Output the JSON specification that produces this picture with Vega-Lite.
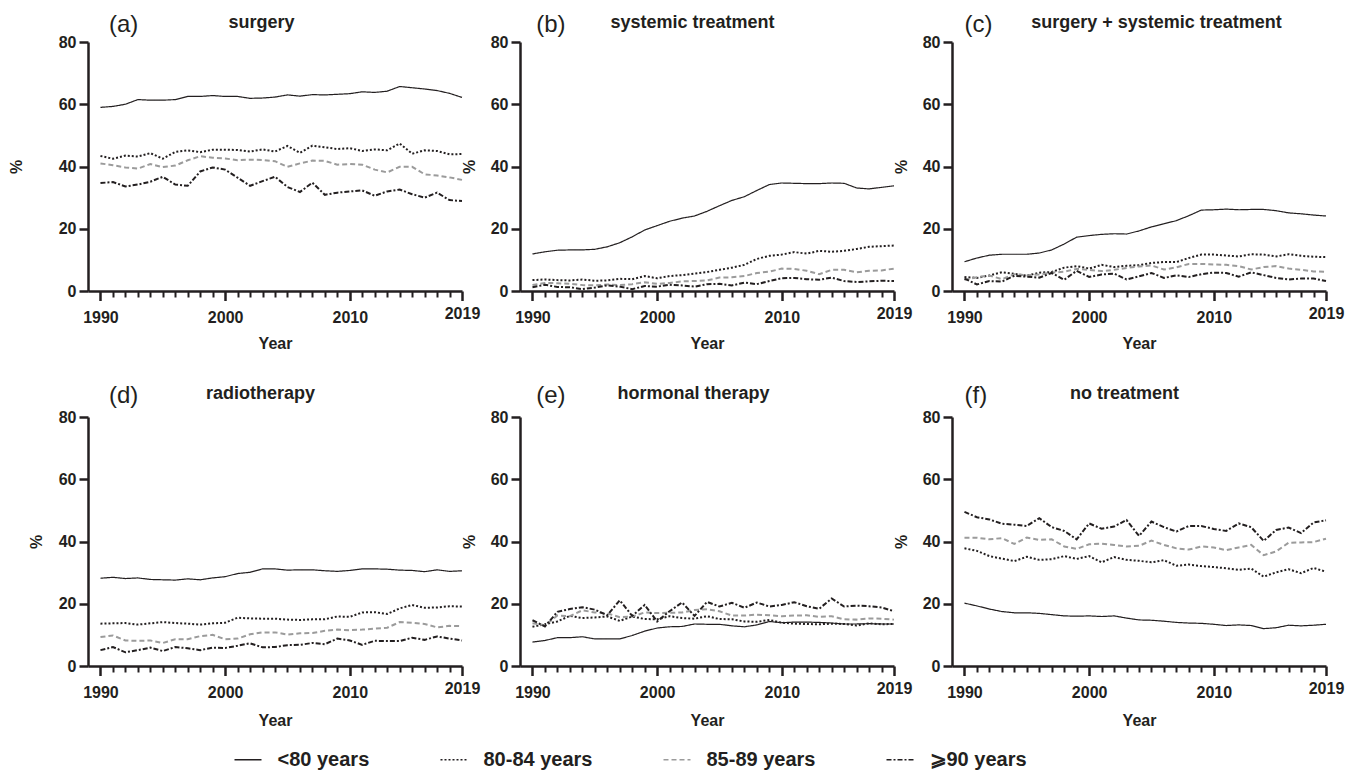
{
"$schema": "https://vega.github.io/schema/vega-lite/v6.json",
"padding": {"left": 8, "top": 12, "right": 5, "bottom": 5},
"columns": 3,
"spacing": {"row": 126, "column": 58},
"bounds": "flush",
"config": {
 "font": "Liberation Sans",
 "view": {"stroke": null},
 "axis": {"labelFont": "Liberation Sans", "labelFontSize": 16, "labelFontWeight": "bold", "labelColor": "#231f20", "titleFont": "Liberation Sans", "titleFontSize": 16, "titleFontWeight": "bold", "titleColor": "#231f20", "domainColor": "#231f20", "domainWidth": 2.5, "tickColor": "#231f20", "tickWidth": 2.5, "grid": false},
 "axisY": {"tickSize": 9, "labelPadding": 3, "titleAngle": -90, "titleAlign": "center", "titleBaseline": "middle"},
 "legend": {"labelFont": "Liberation Sans", "labelFontSize": 20, "labelFontWeight": "bold", "labelColor": "#231f20", "symbolType": "stroke", "symbolSize": 729, "symbolStrokeWidth": 1.6, "labelOffset": 15, "columnPadding": 67, "padding": 0}
},
"concat": [
 {"width": 374, "height": 249, "data": {"name": "surgery"},
  "layer": [
   {"mark": {"type": "line"},
    "encoding": {
     "x": {"field": "year", "type": "quantitative", "scale": {"domain": [1989, 2019], "nice": false, "zero": false}, "axis": {"title": "Year", "values": [1990,1991,1992,1993,1994,1995,1996,1997,1998,1999,2000,2001,2002,2003,2004,2005,2006,2007,2008,2009,2010,2011,2012,2013,2014,2015,2016,2017,2018,2019], "format": "d", "labelExpr": "datum.value % 10 == 0 || datum.value == 2019 ? datum.label : ''", "labelFlush": false, "labelOverlap": false, "tickSize": {"condition": {"test": "datum.value % 10 == 0 || datum.value == 2019", "value": 9.5}, "value": 6}, "tickWidth": {"condition": {"test": "datum.value % 10 == 0 || datum.value == 2019", "value": 2.5}, "value": 2}, "labelPadding": {"condition": {"test": "datum.value == 2019", "value": 5}, "value": 8.7}, "titleY": 57, "titleBaseline": "alphabetic"}},
     "y": {"field": "pct", "type": "quantitative", "scale": {"domain": [0, 80], "nice": false}, "axis": {"title": "%", "values": [0,20,40,60,80], "titleX": -71.5, "titleY": 124.5}},
     "color": {"field": "age", "type": "nominal", "scale": {"domain": ["<80 years","80-84 years","85-89 years","⩾90 years"], "range": ["#231f20","#231f20","#9b9b9b","#231f20"]}, "legend": {"title": null, "orient": "none", "legendX": 145.5, "legendY": 703, "direction": "horizontal"}},
     "strokeDash": {"field": "age", "type": "nominal", "scale": {"domain": ["<80 years","80-84 years","85-89 years","⩾90 years"], "range": [[1,0],[2,2],[5,3],[5,2,2,2]]}, "legend": {"title": null, "orient": "none", "legendX": 145.5, "legendY": 703, "direction": "horizontal"}},
     "strokeWidth": {"condition": {"test": "datum.age == '<80 years'", "value": 1.2}, "value": 2}
    }},
   {"mark": {"type": "point", "opacity": 0},
    "encoding": {"y": {"field": "pct", "type": "quantitative"}, "x": {"field": "year", "type": "quantitative", "scale": {"domain": [1989, 2019], "nice": false, "zero": false}, "axis": {"orient": "top", "title": "(a)", "titleX": 20.5, "titleY": -10.7, "titleAlign": "left", "titleBaseline": "alphabetic", "titleFontWeight": "normal", "titleFontSize": 24, "titleAngle": 0, "domain": false, "ticks": false, "labels": false}}}},
   {"mark": {"type": "point", "opacity": 0},
    "encoding": {"y": {"field": "pct", "type": "quantitative"}, "x": {"field": "year", "type": "quantitative", "scale": {"domain": [1989, 2019], "nice": false, "zero": false}, "axis": {"orient": "top", "title": "surgery", "titleX": 173, "titleY": -14.7, "titleAlign": "center", "titleBaseline": "alphabetic", "titleFontSize": 18, "titleAngle": 0, "domain": false, "ticks": false, "labels": false}}}}
  ],
  "resolve": {"axis": {"x": "independent"}}},
 {"width": 374, "height": 249, "data": {"name": "systemic"},
  "layer": [
   {"mark": {"type": "line"},
    "encoding": {
     "x": {"field": "year", "type": "quantitative", "scale": {"domain": [1989, 2019], "nice": false, "zero": false}, "axis": {"title": "Year", "values": [1990,1991,1992,1993,1994,1995,1996,1997,1998,1999,2000,2001,2002,2003,2004,2005,2006,2007,2008,2009,2010,2011,2012,2013,2014,2015,2016,2017,2018,2019], "format": "d", "labelExpr": "datum.value % 10 == 0 || datum.value == 2019 ? datum.label : ''", "labelFlush": false, "labelOverlap": false, "tickSize": {"condition": {"test": "datum.value % 10 == 0 || datum.value == 2019", "value": 9.5}, "value": 6}, "tickWidth": {"condition": {"test": "datum.value % 10 == 0 || datum.value == 2019", "value": 2.5}, "value": 2}, "labelPadding": {"condition": {"test": "datum.value == 2019", "value": 5}, "value": 8.7}, "titleY": 57, "titleBaseline": "alphabetic"}},
     "y": {"field": "pct", "type": "quantitative", "scale": {"domain": [0, 80], "nice": false}, "axis": {"title": "%", "values": [0,20,40,60,80], "titleX": -51, "titleY": 124.5}},
     "color": {"field": "age", "type": "nominal", "scale": {"domain": ["<80 years","80-84 years","85-89 years","⩾90 years"], "range": ["#231f20","#231f20","#9b9b9b","#231f20"]}, "legend": {"title": null, "orient": "none", "legendX": 145.5, "legendY": 703, "direction": "horizontal"}},
     "strokeDash": {"field": "age", "type": "nominal", "scale": {"domain": ["<80 years","80-84 years","85-89 years","⩾90 years"], "range": [[1,0],[2,2],[5,3],[5,2,2,2]]}, "legend": {"title": null, "orient": "none", "legendX": 145.5, "legendY": 703, "direction": "horizontal"}},
     "strokeWidth": {"condition": {"test": "datum.age == '<80 years'", "value": 1.2}, "value": 2}
    }},
   {"mark": {"type": "point", "opacity": 0},
    "encoding": {"y": {"field": "pct", "type": "quantitative"}, "x": {"field": "year", "type": "quantitative", "scale": {"domain": [1989, 2019], "nice": false, "zero": false}, "axis": {"orient": "top", "title": "(b)", "titleX": 15.7, "titleY": -10.7, "titleAlign": "left", "titleBaseline": "alphabetic", "titleFontWeight": "normal", "titleFontSize": 24, "titleAngle": 0, "domain": false, "ticks": false, "labels": false}}}},
   {"mark": {"type": "point", "opacity": 0},
    "encoding": {"y": {"field": "pct", "type": "quantitative"}, "x": {"field": "year", "type": "quantitative", "scale": {"domain": [1989, 2019], "nice": false, "zero": false}, "axis": {"orient": "top", "title": "systemic treatment", "titleX": 172, "titleY": -14.7, "titleAlign": "center", "titleBaseline": "alphabetic", "titleFontSize": 18, "titleAngle": 0, "domain": false, "ticks": false, "labels": false}}}}
  ],
  "resolve": {"axis": {"x": "independent"}}},
 {"width": 374, "height": 249, "data": {"name": "combined"},
  "layer": [
   {"mark": {"type": "line"},
    "encoding": {
     "x": {"field": "year", "type": "quantitative", "scale": {"domain": [1989, 2019], "nice": false, "zero": false}, "axis": {"title": "Year", "values": [1990,1991,1992,1993,1994,1995,1996,1997,1998,1999,2000,2001,2002,2003,2004,2005,2006,2007,2008,2009,2010,2011,2012,2013,2014,2015,2016,2017,2018,2019], "format": "d", "labelExpr": "datum.value % 10 == 0 || datum.value == 2019 ? datum.label : ''", "labelFlush": false, "labelOverlap": false, "tickSize": {"condition": {"test": "datum.value % 10 == 0 || datum.value == 2019", "value": 9.5}, "value": 6}, "tickWidth": {"condition": {"test": "datum.value % 10 == 0 || datum.value == 2019", "value": 2.5}, "value": 2}, "labelPadding": {"condition": {"test": "datum.value == 2019", "value": 5}, "value": 8.7}, "titleY": 57, "titleBaseline": "alphabetic"}},
     "y": {"field": "pct", "type": "quantitative", "scale": {"domain": [0, 80], "nice": false}, "axis": {"title": "%", "values": [0,20,40,60,80], "titleX": -51, "titleY": 124.5}},
     "color": {"field": "age", "type": "nominal", "scale": {"domain": ["<80 years","80-84 years","85-89 years","⩾90 years"], "range": ["#231f20","#231f20","#9b9b9b","#231f20"]}, "legend": {"title": null, "orient": "none", "legendX": 145.5, "legendY": 703, "direction": "horizontal"}},
     "strokeDash": {"field": "age", "type": "nominal", "scale": {"domain": ["<80 years","80-84 years","85-89 years","⩾90 years"], "range": [[1,0],[2,2],[5,3],[5,2,2,2]]}, "legend": {"title": null, "orient": "none", "legendX": 145.5, "legendY": 703, "direction": "horizontal"}},
     "strokeWidth": {"condition": {"test": "datum.age == '<80 years'", "value": 1.2}, "value": 2}
    }},
   {"mark": {"type": "point", "opacity": 0},
    "encoding": {"y": {"field": "pct", "type": "quantitative"}, "x": {"field": "year", "type": "quantitative", "scale": {"domain": [1989, 2019], "nice": false, "zero": false}, "axis": {"orient": "top", "title": "(c)", "titleX": 12, "titleY": -10.7, "titleAlign": "left", "titleBaseline": "alphabetic", "titleFontWeight": "normal", "titleFontSize": 24, "titleAngle": 0, "domain": false, "ticks": false, "labels": false}}}},
   {"mark": {"type": "point", "opacity": 0},
    "encoding": {"y": {"field": "pct", "type": "quantitative"}, "x": {"field": "year", "type": "quantitative", "scale": {"domain": [1989, 2019], "nice": false, "zero": false}, "axis": {"orient": "top", "title": "surgery + systemic treatment", "titleX": 204, "titleY": -14.7, "titleAlign": "center", "titleBaseline": "alphabetic", "titleFontSize": 18, "titleAngle": 0, "domain": false, "ticks": false, "labels": false}}}}
  ],
  "resolve": {"axis": {"x": "independent"}}},
 {"width": 374, "height": 249, "data": {"name": "radio"},
  "layer": [
   {"mark": {"type": "line"},
    "encoding": {
     "x": {"field": "year", "type": "quantitative", "scale": {"domain": [1989, 2019], "nice": false, "zero": false}, "axis": {"title": "Year", "values": [1990,1991,1992,1993,1994,1995,1996,1997,1998,1999,2000,2001,2002,2003,2004,2005,2006,2007,2008,2009,2010,2011,2012,2013,2014,2015,2016,2017,2018,2019], "format": "d", "labelExpr": "datum.value % 10 == 0 || datum.value == 2019 ? datum.label : ''", "labelFlush": false, "labelOverlap": false, "tickSize": {"condition": {"test": "datum.value % 10 == 0 || datum.value == 2019", "value": 9.5}, "value": 6}, "tickWidth": {"condition": {"test": "datum.value % 10 == 0 || datum.value == 2019", "value": 2.5}, "value": 2}, "labelPadding": {"condition": {"test": "datum.value == 2019", "value": 5}, "value": 8.7}, "titleY": 59, "titleBaseline": "alphabetic"}},
     "y": {"field": "pct", "type": "quantitative", "scale": {"domain": [0, 80], "nice": false}, "axis": {"title": "%", "values": [0,20,40,60,80], "titleX": -51.7, "titleY": 124.5}},
     "color": {"field": "age", "type": "nominal", "scale": {"domain": ["<80 years","80-84 years","85-89 years","⩾90 years"], "range": ["#231f20","#231f20","#9b9b9b","#231f20"]}, "legend": {"title": null, "orient": "none", "legendX": 145.5, "legendY": 703, "direction": "horizontal"}},
     "strokeDash": {"field": "age", "type": "nominal", "scale": {"domain": ["<80 years","80-84 years","85-89 years","⩾90 years"], "range": [[1,0],[2,2],[5,3],[5,2,2,2]]}, "legend": {"title": null, "orient": "none", "legendX": 145.5, "legendY": 703, "direction": "horizontal"}},
     "strokeWidth": {"condition": {"test": "datum.age == '<80 years'", "value": 1.2}, "value": 2}
    }},
   {"mark": {"type": "point", "opacity": 0},
    "encoding": {"y": {"field": "pct", "type": "quantitative"}, "x": {"field": "year", "type": "quantitative", "scale": {"domain": [1989, 2019], "nice": false, "zero": false}, "axis": {"orient": "top", "title": "(d)", "titleX": 20.5, "titleY": -15, "titleAlign": "left", "titleBaseline": "alphabetic", "titleFontWeight": "normal", "titleFontSize": 24, "titleAngle": 0, "domain": false, "ticks": false, "labels": false}}}},
   {"mark": {"type": "point", "opacity": 0},
    "encoding": {"y": {"field": "pct", "type": "quantitative"}, "x": {"field": "year", "type": "quantitative", "scale": {"domain": [1989, 2019], "nice": false, "zero": false}, "axis": {"orient": "top", "title": "radiotherapy", "titleX": 172, "titleY": -18.4, "titleAlign": "center", "titleBaseline": "alphabetic", "titleFontSize": 18, "titleAngle": 0, "domain": false, "ticks": false, "labels": false}}}}
  ],
  "resolve": {"axis": {"x": "independent"}}},
 {"width": 374, "height": 249, "data": {"name": "hormonal"},
  "layer": [
   {"mark": {"type": "line"},
    "encoding": {
     "x": {"field": "year", "type": "quantitative", "scale": {"domain": [1989, 2019], "nice": false, "zero": false}, "axis": {"title": "Year", "values": [1990,1991,1992,1993,1994,1995,1996,1997,1998,1999,2000,2001,2002,2003,2004,2005,2006,2007,2008,2009,2010,2011,2012,2013,2014,2015,2016,2017,2018,2019], "format": "d", "labelExpr": "datum.value % 10 == 0 || datum.value == 2019 ? datum.label : ''", "labelFlush": false, "labelOverlap": false, "tickSize": {"condition": {"test": "datum.value % 10 == 0 || datum.value == 2019", "value": 9.5}, "value": 6}, "tickWidth": {"condition": {"test": "datum.value % 10 == 0 || datum.value == 2019", "value": 2.5}, "value": 2}, "labelPadding": {"condition": {"test": "datum.value == 2019", "value": 5}, "value": 8.7}, "titleY": 59, "titleBaseline": "alphabetic"}},
     "y": {"field": "pct", "type": "quantitative", "scale": {"domain": [0, 80], "nice": false}, "axis": {"title": "%", "values": [0,20,40,60,80], "titleX": -51, "titleY": 124.5}},
     "color": {"field": "age", "type": "nominal", "scale": {"domain": ["<80 years","80-84 years","85-89 years","⩾90 years"], "range": ["#231f20","#231f20","#9b9b9b","#231f20"]}, "legend": {"title": null, "orient": "none", "legendX": 145.5, "legendY": 703, "direction": "horizontal"}},
     "strokeDash": {"field": "age", "type": "nominal", "scale": {"domain": ["<80 years","80-84 years","85-89 years","⩾90 years"], "range": [[1,0],[2,2],[5,3],[5,2,2,2]]}, "legend": {"title": null, "orient": "none", "legendX": 145.5, "legendY": 703, "direction": "horizontal"}},
     "strokeWidth": {"condition": {"test": "datum.age == '<80 years'", "value": 1.2}, "value": 2}
    }},
   {"mark": {"type": "point", "opacity": 0},
    "encoding": {"y": {"field": "pct", "type": "quantitative"}, "x": {"field": "year", "type": "quantitative", "scale": {"domain": [1989, 2019], "nice": false, "zero": false}, "axis": {"orient": "top", "title": "(e)", "titleX": 15.7, "titleY": -15, "titleAlign": "left", "titleBaseline": "alphabetic", "titleFontWeight": "normal", "titleFontSize": 24, "titleAngle": 0, "domain": false, "ticks": false, "labels": false}}}},
   {"mark": {"type": "point", "opacity": 0},
    "encoding": {"y": {"field": "pct", "type": "quantitative"}, "x": {"field": "year", "type": "quantitative", "scale": {"domain": [1989, 2019], "nice": false, "zero": false}, "axis": {"orient": "top", "title": "hormonal therapy", "titleX": 173, "titleY": -18.4, "titleAlign": "center", "titleBaseline": "alphabetic", "titleFontSize": 18, "titleAngle": 0, "domain": false, "ticks": false, "labels": false}}}}
  ],
  "resolve": {"axis": {"x": "independent"}}},
 {"width": 374, "height": 249, "data": {"name": "none"},
  "layer": [
   {"mark": {"type": "line"},
    "encoding": {
     "x": {"field": "year", "type": "quantitative", "scale": {"domain": [1989, 2019], "nice": false, "zero": false}, "axis": {"title": "Year", "values": [1990,1991,1992,1993,1994,1995,1996,1997,1998,1999,2000,2001,2002,2003,2004,2005,2006,2007,2008,2009,2010,2011,2012,2013,2014,2015,2016,2017,2018,2019], "format": "d", "labelExpr": "datum.value % 10 == 0 || datum.value == 2019 ? datum.label : ''", "labelFlush": false, "labelOverlap": false, "tickSize": {"condition": {"test": "datum.value % 10 == 0 || datum.value == 2019", "value": 9.5}, "value": 6}, "tickWidth": {"condition": {"test": "datum.value % 10 == 0 || datum.value == 2019", "value": 2.5}, "value": 2}, "labelPadding": {"condition": {"test": "datum.value == 2019", "value": 5}, "value": 8.7}, "titleY": 59, "titleBaseline": "alphabetic"}},
     "y": {"field": "pct", "type": "quantitative", "scale": {"domain": [0, 80], "nice": false}, "axis": {"title": "%", "values": [0,20,40,60,80], "titleX": -51, "titleY": 124.5}},
     "color": {"field": "age", "type": "nominal", "scale": {"domain": ["<80 years","80-84 years","85-89 years","⩾90 years"], "range": ["#231f20","#231f20","#9b9b9b","#231f20"]}, "legend": {"title": null, "orient": "none", "legendX": 145.5, "legendY": 703, "direction": "horizontal"}},
     "strokeDash": {"field": "age", "type": "nominal", "scale": {"domain": ["<80 years","80-84 years","85-89 years","⩾90 years"], "range": [[1,0],[2,2],[5,3],[5,2,2,2]]}, "legend": {"title": null, "orient": "none", "legendX": 145.5, "legendY": 703, "direction": "horizontal"}},
     "strokeWidth": {"condition": {"test": "datum.age == '<80 years'", "value": 1.2}, "value": 2}
    }},
   {"mark": {"type": "point", "opacity": 0},
    "encoding": {"y": {"field": "pct", "type": "quantitative"}, "x": {"field": "year", "type": "quantitative", "scale": {"domain": [1989, 2019], "nice": false, "zero": false}, "axis": {"orient": "top", "title": "(f)", "titleX": 12, "titleY": -15, "titleAlign": "left", "titleBaseline": "alphabetic", "titleFontWeight": "normal", "titleFontSize": 24, "titleAngle": 0, "domain": false, "ticks": false, "labels": false}}}},
   {"mark": {"type": "point", "opacity": 0},
    "encoding": {"y": {"field": "pct", "type": "quantitative"}, "x": {"field": "year", "type": "quantitative", "scale": {"domain": [1989, 2019], "nice": false, "zero": false}, "axis": {"orient": "top", "title": "no treatment", "titleX": 172, "titleY": -18.4, "titleAlign": "center", "titleBaseline": "alphabetic", "titleFontSize": 18, "titleAngle": 0, "domain": false, "ticks": false, "labels": false}}}}
  ],
  "resolve": {"axis": {"x": "independent"}}}
],
"datasets": {
"surgery": [
{"year":1990,"age":"<80 years","pct":59.0},{"year":1991,"age":"<80 years","pct":59.3},{"year":1992,"age":"<80 years","pct":60.0},{"year":1993,"age":"<80 years","pct":61.5},{"year":1994,"age":"<80 years","pct":61.3},{"year":1995,"age":"<80 years","pct":61.3},{"year":1996,"age":"<80 years","pct":61.5},{"year":1997,"age":"<80 years","pct":62.5},{"year":1998,"age":"<80 years","pct":62.5},{"year":1999,"age":"<80 years","pct":62.8},{"year":2000,"age":"<80 years","pct":62.5},{"year":2001,"age":"<80 years","pct":62.5},{"year":2002,"age":"<80 years","pct":61.9},{"year":2003,"age":"<80 years","pct":62.0},{"year":2004,"age":"<80 years","pct":62.3},{"year":2005,"age":"<80 years","pct":63.0},{"year":2006,"age":"<80 years","pct":62.6},{"year":2007,"age":"<80 years","pct":63.1},{"year":2008,"age":"<80 years","pct":63.0},{"year":2009,"age":"<80 years","pct":63.2},{"year":2010,"age":"<80 years","pct":63.4},{"year":2011,"age":"<80 years","pct":64.0},{"year":2012,"age":"<80 years","pct":63.8},{"year":2013,"age":"<80 years","pct":64.2},{"year":2014,"age":"<80 years","pct":65.7},{"year":2015,"age":"<80 years","pct":65.3},{"year":2016,"age":"<80 years","pct":64.9},{"year":2017,"age":"<80 years","pct":64.4},{"year":2018,"age":"<80 years","pct":63.5},{"year":2019,"age":"<80 years","pct":62.2},
{"year":1990,"age":"80-84 years","pct":43.4},{"year":1991,"age":"80-84 years","pct":42.5},{"year":1992,"age":"80-84 years","pct":43.5},{"year":1993,"age":"80-84 years","pct":43.2},{"year":1994,"age":"80-84 years","pct":44.3},{"year":1995,"age":"80-84 years","pct":42.5},{"year":1996,"age":"80-84 years","pct":44.7},{"year":1997,"age":"80-84 years","pct":45.2},{"year":1998,"age":"80-84 years","pct":44.6},{"year":1999,"age":"80-84 years","pct":45.4},{"year":2000,"age":"80-84 years","pct":45.4},{"year":2001,"age":"80-84 years","pct":45.3},{"year":2002,"age":"80-84 years","pct":44.8},{"year":2003,"age":"80-84 years","pct":45.5},{"year":2004,"age":"80-84 years","pct":44.8},{"year":2005,"age":"80-84 years","pct":46.6},{"year":2006,"age":"80-84 years","pct":44.4},{"year":2007,"age":"80-84 years","pct":46.7},{"year":2008,"age":"80-84 years","pct":46.2},{"year":2009,"age":"80-84 years","pct":45.6},{"year":2010,"age":"80-84 years","pct":45.9},{"year":2011,"age":"80-84 years","pct":45.0},{"year":2012,"age":"80-84 years","pct":45.5},{"year":2013,"age":"80-84 years","pct":45.2},{"year":2014,"age":"80-84 years","pct":47.4},{"year":2015,"age":"80-84 years","pct":44.1},{"year":2016,"age":"80-84 years","pct":45.2},{"year":2017,"age":"80-84 years","pct":45.0},{"year":2018,"age":"80-84 years","pct":43.9},{"year":2019,"age":"80-84 years","pct":44.0},
{"year":1990,"age":"85-89 years","pct":41.0},{"year":1991,"age":"85-89 years","pct":40.4},{"year":1992,"age":"85-89 years","pct":39.7},{"year":1993,"age":"85-89 years","pct":39.3},{"year":1994,"age":"85-89 years","pct":40.8},{"year":1995,"age":"85-89 years","pct":39.8},{"year":1996,"age":"85-89 years","pct":40.3},{"year":1997,"age":"85-89 years","pct":42.0},{"year":1998,"age":"85-89 years","pct":43.3},{"year":1999,"age":"85-89 years","pct":42.8},{"year":2000,"age":"85-89 years","pct":42.6},{"year":2001,"age":"85-89 years","pct":42.0},{"year":2002,"age":"85-89 years","pct":42.2},{"year":2003,"age":"85-89 years","pct":42.1},{"year":2004,"age":"85-89 years","pct":41.7},{"year":2005,"age":"85-89 years","pct":39.9},{"year":2006,"age":"85-89 years","pct":41.0},{"year":2007,"age":"85-89 years","pct":41.9},{"year":2008,"age":"85-89 years","pct":41.8},{"year":2009,"age":"85-89 years","pct":40.6},{"year":2010,"age":"85-89 years","pct":40.8},{"year":2011,"age":"85-89 years","pct":40.6},{"year":2012,"age":"85-89 years","pct":39.0},{"year":2013,"age":"85-89 years","pct":38.1},{"year":2014,"age":"85-89 years","pct":39.9},{"year":2015,"age":"85-89 years","pct":39.9},{"year":2016,"age":"85-89 years","pct":37.5},{"year":2017,"age":"85-89 years","pct":37.1},{"year":2018,"age":"85-89 years","pct":36.5},{"year":2019,"age":"85-89 years","pct":35.7},
{"year":1990,"age":"⩾90 years","pct":34.7},{"year":1991,"age":"⩾90 years","pct":35.0},{"year":1992,"age":"⩾90 years","pct":33.6},{"year":1993,"age":"⩾90 years","pct":34.2},{"year":1994,"age":"⩾90 years","pct":35.1},{"year":1995,"age":"⩾90 years","pct":36.7},{"year":1996,"age":"⩾90 years","pct":34.2},{"year":1997,"age":"⩾90 years","pct":33.8},{"year":1998,"age":"⩾90 years","pct":38.4},{"year":1999,"age":"⩾90 years","pct":39.7},{"year":2000,"age":"⩾90 years","pct":39.0},{"year":2001,"age":"⩾90 years","pct":36.4},{"year":2002,"age":"⩾90 years","pct":33.8},{"year":2003,"age":"⩾90 years","pct":35.3},{"year":2004,"age":"⩾90 years","pct":36.7},{"year":2005,"age":"⩾90 years","pct":33.4},{"year":2006,"age":"⩾90 years","pct":31.8},{"year":2007,"age":"⩾90 years","pct":34.8},{"year":2008,"age":"⩾90 years","pct":30.9},{"year":2009,"age":"⩾90 years","pct":31.6},{"year":2010,"age":"⩾90 years","pct":32.0},{"year":2011,"age":"⩾90 years","pct":32.3},{"year":2012,"age":"⩾90 years","pct":30.6},{"year":2013,"age":"⩾90 years","pct":32.0},{"year":2014,"age":"⩾90 years","pct":32.6},{"year":2015,"age":"⩾90 years","pct":31.1},{"year":2016,"age":"⩾90 years","pct":30.0},{"year":2017,"age":"⩾90 years","pct":31.6},{"year":2018,"age":"⩾90 years","pct":29.2},{"year":2019,"age":"⩾90 years","pct":28.9}
],
"systemic": [
{"year":1990,"age":"<80 years","pct":11.9},{"year":1991,"age":"<80 years","pct":12.6},{"year":1992,"age":"<80 years","pct":13.1},{"year":1993,"age":"<80 years","pct":13.2},{"year":1994,"age":"<80 years","pct":13.2},{"year":1995,"age":"<80 years","pct":13.4},{"year":1996,"age":"<80 years","pct":14.2},{"year":1997,"age":"<80 years","pct":15.5},{"year":1998,"age":"<80 years","pct":17.4},{"year":1999,"age":"<80 years","pct":19.6},{"year":2000,"age":"<80 years","pct":21.0},{"year":2001,"age":"<80 years","pct":22.4},{"year":2002,"age":"<80 years","pct":23.4},{"year":2003,"age":"<80 years","pct":24.1},{"year":2004,"age":"<80 years","pct":25.6},{"year":2005,"age":"<80 years","pct":27.4},{"year":2006,"age":"<80 years","pct":29.1},{"year":2007,"age":"<80 years","pct":30.3},{"year":2008,"age":"<80 years","pct":32.3},{"year":2009,"age":"<80 years","pct":34.2},{"year":2010,"age":"<80 years","pct":34.7},{"year":2011,"age":"<80 years","pct":34.6},{"year":2012,"age":"<80 years","pct":34.5},{"year":2013,"age":"<80 years","pct":34.5},{"year":2014,"age":"<80 years","pct":34.7},{"year":2015,"age":"<80 years","pct":34.6},{"year":2016,"age":"<80 years","pct":33.1},{"year":2017,"age":"<80 years","pct":32.8},{"year":2018,"age":"<80 years","pct":33.3},{"year":2019,"age":"<80 years","pct":33.8},
{"year":1990,"age":"80-84 years","pct":3.5},{"year":1991,"age":"80-84 years","pct":3.7},{"year":1992,"age":"80-84 years","pct":3.5},{"year":1993,"age":"80-84 years","pct":3.4},{"year":1994,"age":"80-84 years","pct":3.7},{"year":1995,"age":"80-84 years","pct":3.3},{"year":1996,"age":"80-84 years","pct":3.4},{"year":1997,"age":"80-84 years","pct":3.9},{"year":1998,"age":"80-84 years","pct":3.8},{"year":1999,"age":"80-84 years","pct":4.8},{"year":2000,"age":"80-84 years","pct":4.1},{"year":2001,"age":"80-84 years","pct":4.8},{"year":2002,"age":"80-84 years","pct":5.1},{"year":2003,"age":"80-84 years","pct":5.6},{"year":2004,"age":"80-84 years","pct":6.1},{"year":2005,"age":"80-84 years","pct":6.8},{"year":2006,"age":"80-84 years","pct":7.5},{"year":2007,"age":"80-84 years","pct":8.4},{"year":2008,"age":"80-84 years","pct":10.3},{"year":2009,"age":"80-84 years","pct":11.3},{"year":2010,"age":"80-84 years","pct":11.7},{"year":2011,"age":"80-84 years","pct":12.5},{"year":2012,"age":"80-84 years","pct":12.0},{"year":2013,"age":"80-84 years","pct":12.9},{"year":2014,"age":"80-84 years","pct":12.6},{"year":2015,"age":"80-84 years","pct":12.9},{"year":2016,"age":"80-84 years","pct":13.5},{"year":2017,"age":"80-84 years","pct":14.2},{"year":2018,"age":"80-84 years","pct":14.4},{"year":2019,"age":"80-84 years","pct":14.6},
{"year":1990,"age":"85-89 years","pct":1.9},{"year":1991,"age":"85-89 years","pct":2.6},{"year":1992,"age":"85-89 years","pct":2.5},{"year":1993,"age":"85-89 years","pct":2.3},{"year":1994,"age":"85-89 years","pct":1.9},{"year":1995,"age":"85-89 years","pct":1.8},{"year":1996,"age":"85-89 years","pct":2.1},{"year":1997,"age":"85-89 years","pct":1.9},{"year":1998,"age":"85-89 years","pct":2.2},{"year":1999,"age":"85-89 years","pct":2.8},{"year":2000,"age":"85-89 years","pct":2.3},{"year":2001,"age":"85-89 years","pct":2.6},{"year":2002,"age":"85-89 years","pct":3.1},{"year":2003,"age":"85-89 years","pct":3.2},{"year":2004,"age":"85-89 years","pct":3.4},{"year":2005,"age":"85-89 years","pct":4.3},{"year":2006,"age":"85-89 years","pct":4.4},{"year":2007,"age":"85-89 years","pct":4.8},{"year":2008,"age":"85-89 years","pct":5.8},{"year":2009,"age":"85-89 years","pct":6.2},{"year":2010,"age":"85-89 years","pct":7.2},{"year":2011,"age":"85-89 years","pct":7.1},{"year":2012,"age":"85-89 years","pct":6.5},{"year":2013,"age":"85-89 years","pct":5.4},{"year":2014,"age":"85-89 years","pct":6.8},{"year":2015,"age":"85-89 years","pct":6.8},{"year":2016,"age":"85-89 years","pct":6.0},{"year":2017,"age":"85-89 years","pct":6.5},{"year":2018,"age":"85-89 years","pct":6.6},{"year":2019,"age":"85-89 years","pct":7.2},
{"year":1990,"age":"⩾90 years","pct":1.2},{"year":1991,"age":"⩾90 years","pct":2.0},{"year":1992,"age":"⩾90 years","pct":1.3},{"year":1993,"age":"⩾90 years","pct":1.2},{"year":1994,"age":"⩾90 years","pct":0.6},{"year":1995,"age":"⩾90 years","pct":1.1},{"year":1996,"age":"⩾90 years","pct":1.8},{"year":1997,"age":"⩾90 years","pct":1.4},{"year":1998,"age":"⩾90 years","pct":0.6},{"year":1999,"age":"⩾90 years","pct":1.6},{"year":2000,"age":"⩾90 years","pct":1.4},{"year":2001,"age":"⩾90 years","pct":2.0},{"year":2002,"age":"⩾90 years","pct":1.8},{"year":2003,"age":"⩾90 years","pct":1.4},{"year":2004,"age":"⩾90 years","pct":2.2},{"year":2005,"age":"⩾90 years","pct":2.3},{"year":2006,"age":"⩾90 years","pct":1.8},{"year":2007,"age":"⩾90 years","pct":2.7},{"year":2008,"age":"⩾90 years","pct":2.2},{"year":2009,"age":"⩾90 years","pct":3.2},{"year":2010,"age":"⩾90 years","pct":4.1},{"year":2011,"age":"⩾90 years","pct":4.2},{"year":2012,"age":"⩾90 years","pct":3.8},{"year":2013,"age":"⩾90 years","pct":3.6},{"year":2014,"age":"⩾90 years","pct":4.3},{"year":2015,"age":"⩾90 years","pct":3.2},{"year":2016,"age":"⩾90 years","pct":2.9},{"year":2017,"age":"⩾90 years","pct":3.1},{"year":2018,"age":"⩾90 years","pct":3.3},{"year":2019,"age":"⩾90 years","pct":3.2}
],
"combined": [
{"year":1990,"age":"<80 years","pct":9.4},{"year":1991,"age":"<80 years","pct":10.6},{"year":1992,"age":"<80 years","pct":11.5},{"year":1993,"age":"<80 years","pct":11.8},{"year":1994,"age":"<80 years","pct":11.8},{"year":1995,"age":"<80 years","pct":11.8},{"year":1996,"age":"<80 years","pct":12.2},{"year":1997,"age":"<80 years","pct":13.2},{"year":1998,"age":"<80 years","pct":15.1},{"year":1999,"age":"<80 years","pct":17.3},{"year":2000,"age":"<80 years","pct":17.8},{"year":2001,"age":"<80 years","pct":18.2},{"year":2002,"age":"<80 years","pct":18.4},{"year":2003,"age":"<80 years","pct":18.3},{"year":2004,"age":"<80 years","pct":19.3},{"year":2005,"age":"<80 years","pct":20.6},{"year":2006,"age":"<80 years","pct":21.6},{"year":2007,"age":"<80 years","pct":22.6},{"year":2008,"age":"<80 years","pct":24.2},{"year":2009,"age":"<80 years","pct":26.0},{"year":2010,"age":"<80 years","pct":26.1},{"year":2011,"age":"<80 years","pct":26.3},{"year":2012,"age":"<80 years","pct":26.1},{"year":2013,"age":"<80 years","pct":26.2},{"year":2014,"age":"<80 years","pct":26.2},{"year":2015,"age":"<80 years","pct":25.8},{"year":2016,"age":"<80 years","pct":25.1},{"year":2017,"age":"<80 years","pct":24.8},{"year":2018,"age":"<80 years","pct":24.4},{"year":2019,"age":"<80 years","pct":24.1},
{"year":1990,"age":"80-84 years","pct":4.5},{"year":1991,"age":"80-84 years","pct":4.2},{"year":1992,"age":"80-84 years","pct":5.0},{"year":1993,"age":"80-84 years","pct":6.0},{"year":1994,"age":"80-84 years","pct":5.5},{"year":1995,"age":"80-84 years","pct":4.9},{"year":1996,"age":"80-84 years","pct":5.9},{"year":1997,"age":"80-84 years","pct":6.1},{"year":1998,"age":"80-84 years","pct":7.5},{"year":1999,"age":"80-84 years","pct":8.0},{"year":2000,"age":"80-84 years","pct":7.2},{"year":2001,"age":"80-84 years","pct":8.4},{"year":2002,"age":"80-84 years","pct":7.7},{"year":2003,"age":"80-84 years","pct":8.1},{"year":2004,"age":"80-84 years","pct":8.3},{"year":2005,"age":"80-84 years","pct":9.0},{"year":2006,"age":"80-84 years","pct":9.3},{"year":2007,"age":"80-84 years","pct":9.3},{"year":2008,"age":"80-84 years","pct":10.6},{"year":2009,"age":"80-84 years","pct":11.7},{"year":2010,"age":"80-84 years","pct":11.7},{"year":2011,"age":"80-84 years","pct":11.4},{"year":2012,"age":"80-84 years","pct":11.1},{"year":2013,"age":"80-84 years","pct":11.8},{"year":2014,"age":"80-84 years","pct":11.7},{"year":2015,"age":"80-84 years","pct":11.1},{"year":2016,"age":"80-84 years","pct":11.8},{"year":2017,"age":"80-84 years","pct":11.3},{"year":2018,"age":"80-84 years","pct":11.0},{"year":2019,"age":"80-84 years","pct":10.9},
{"year":1990,"age":"85-89 years","pct":3.6},{"year":1991,"age":"85-89 years","pct":4.4},{"year":1992,"age":"85-89 years","pct":5.0},{"year":1993,"age":"85-89 years","pct":3.8},{"year":1994,"age":"85-89 years","pct":5.4},{"year":1995,"age":"85-89 years","pct":5.0},{"year":1996,"age":"85-89 years","pct":5.3},{"year":1997,"age":"85-89 years","pct":5.9},{"year":1998,"age":"85-89 years","pct":6.2},{"year":1999,"age":"85-89 years","pct":7.1},{"year":2000,"age":"85-89 years","pct":6.8},{"year":2001,"age":"85-89 years","pct":6.4},{"year":2002,"age":"85-89 years","pct":6.8},{"year":2003,"age":"85-89 years","pct":7.4},{"year":2004,"age":"85-89 years","pct":7.9},{"year":2005,"age":"85-89 years","pct":8.2},{"year":2006,"age":"85-89 years","pct":6.9},{"year":2007,"age":"85-89 years","pct":7.6},{"year":2008,"age":"85-89 years","pct":8.7},{"year":2009,"age":"85-89 years","pct":8.7},{"year":2010,"age":"85-89 years","pct":8.5},{"year":2011,"age":"85-89 years","pct":8.4},{"year":2012,"age":"85-89 years","pct":8.0},{"year":2013,"age":"85-89 years","pct":6.9},{"year":2014,"age":"85-89 years","pct":7.7},{"year":2015,"age":"85-89 years","pct":8.0},{"year":2016,"age":"85-89 years","pct":7.2},{"year":2017,"age":"85-89 years","pct":6.8},{"year":2018,"age":"85-89 years","pct":6.3},{"year":2019,"age":"85-89 years","pct":6.2},
{"year":1990,"age":"⩾90 years","pct":4.0},{"year":1991,"age":"⩾90 years","pct":2.1},{"year":1992,"age":"⩾90 years","pct":3.2},{"year":1993,"age":"⩾90 years","pct":3.0},{"year":1994,"age":"⩾90 years","pct":4.9},{"year":1995,"age":"⩾90 years","pct":4.6},{"year":1996,"age":"⩾90 years","pct":4.3},{"year":1997,"age":"⩾90 years","pct":5.8},{"year":1998,"age":"⩾90 years","pct":3.6},{"year":1999,"age":"⩾90 years","pct":6.5},{"year":2000,"age":"⩾90 years","pct":4.5},{"year":2001,"age":"⩾90 years","pct":5.3},{"year":2002,"age":"⩾90 years","pct":5.6},{"year":2003,"age":"⩾90 years","pct":3.7},{"year":2004,"age":"⩾90 years","pct":4.7},{"year":2005,"age":"⩾90 years","pct":5.8},{"year":2006,"age":"⩾90 years","pct":4.2},{"year":2007,"age":"⩾90 years","pct":5.0},{"year":2008,"age":"⩾90 years","pct":4.5},{"year":2009,"age":"⩾90 years","pct":5.4},{"year":2010,"age":"⩾90 years","pct":5.9},{"year":2011,"age":"⩾90 years","pct":5.8},{"year":2012,"age":"⩾90 years","pct":4.6},{"year":2013,"age":"⩾90 years","pct":6.0},{"year":2014,"age":"⩾90 years","pct":5.1},{"year":2015,"age":"⩾90 years","pct":4.2},{"year":2016,"age":"⩾90 years","pct":3.7},{"year":2017,"age":"⩾90 years","pct":4.0},{"year":2018,"age":"⩾90 years","pct":4.0},{"year":2019,"age":"⩾90 years","pct":3.2}
],
"radio": [
{"year":1990,"age":"<80 years","pct":28.2},{"year":1991,"age":"<80 years","pct":28.5},{"year":1992,"age":"<80 years","pct":28.1},{"year":1993,"age":"<80 years","pct":28.3},{"year":1994,"age":"<80 years","pct":27.8},{"year":1995,"age":"<80 years","pct":27.7},{"year":1996,"age":"<80 years","pct":27.6},{"year":1997,"age":"<80 years","pct":28.0},{"year":1998,"age":"<80 years","pct":27.7},{"year":1999,"age":"<80 years","pct":28.3},{"year":2000,"age":"<80 years","pct":28.7},{"year":2001,"age":"<80 years","pct":29.7},{"year":2002,"age":"<80 years","pct":30.1},{"year":2003,"age":"<80 years","pct":31.2},{"year":2004,"age":"<80 years","pct":31.2},{"year":2005,"age":"<80 years","pct":30.8},{"year":2006,"age":"<80 years","pct":30.9},{"year":2007,"age":"<80 years","pct":30.9},{"year":2008,"age":"<80 years","pct":30.6},{"year":2009,"age":"<80 years","pct":30.4},{"year":2010,"age":"<80 years","pct":30.7},{"year":2011,"age":"<80 years","pct":31.2},{"year":2012,"age":"<80 years","pct":31.2},{"year":2013,"age":"<80 years","pct":31.1},{"year":2014,"age":"<80 years","pct":30.8},{"year":2015,"age":"<80 years","pct":30.7},{"year":2016,"age":"<80 years","pct":30.3},{"year":2017,"age":"<80 years","pct":30.9},{"year":2018,"age":"<80 years","pct":30.4},{"year":2019,"age":"<80 years","pct":30.6},
{"year":1990,"age":"80-84 years","pct":13.6},{"year":1991,"age":"80-84 years","pct":13.7},{"year":1992,"age":"80-84 years","pct":13.8},{"year":1993,"age":"80-84 years","pct":13.3},{"year":1994,"age":"80-84 years","pct":13.7},{"year":1995,"age":"80-84 years","pct":14.1},{"year":1996,"age":"80-84 years","pct":13.8},{"year":1997,"age":"80-84 years","pct":13.6},{"year":1998,"age":"80-84 years","pct":13.3},{"year":1999,"age":"80-84 years","pct":13.7},{"year":2000,"age":"80-84 years","pct":13.9},{"year":2001,"age":"80-84 years","pct":15.5},{"year":2002,"age":"80-84 years","pct":15.3},{"year":2003,"age":"80-84 years","pct":15.2},{"year":2004,"age":"80-84 years","pct":15.2},{"year":2005,"age":"80-84 years","pct":14.9},{"year":2006,"age":"80-84 years","pct":14.8},{"year":2007,"age":"80-84 years","pct":15.0},{"year":2008,"age":"80-84 years","pct":15.0},{"year":2009,"age":"80-84 years","pct":15.9},{"year":2010,"age":"80-84 years","pct":15.8},{"year":2011,"age":"80-84 years","pct":17.2},{"year":2012,"age":"80-84 years","pct":17.3},{"year":2013,"age":"80-84 years","pct":16.7},{"year":2014,"age":"80-84 years","pct":18.5},{"year":2015,"age":"80-84 years","pct":19.6},{"year":2016,"age":"80-84 years","pct":18.7},{"year":2017,"age":"80-84 years","pct":18.8},{"year":2018,"age":"80-84 years","pct":19.2},{"year":2019,"age":"80-84 years","pct":19.1},
{"year":1990,"age":"85-89 years","pct":9.3},{"year":1991,"age":"85-89 years","pct":9.8},{"year":1992,"age":"85-89 years","pct":8.2},{"year":1993,"age":"85-89 years","pct":8.1},{"year":1994,"age":"85-89 years","pct":8.2},{"year":1995,"age":"85-89 years","pct":7.4},{"year":1996,"age":"85-89 years","pct":8.6},{"year":1997,"age":"85-89 years","pct":8.6},{"year":1998,"age":"85-89 years","pct":9.6},{"year":1999,"age":"85-89 years","pct":10.0},{"year":2000,"age":"85-89 years","pct":8.6},{"year":2001,"age":"85-89 years","pct":8.8},{"year":2002,"age":"85-89 years","pct":10.2},{"year":2003,"age":"85-89 years","pct":10.8},{"year":2004,"age":"85-89 years","pct":10.8},{"year":2005,"age":"85-89 years","pct":10.1},{"year":2006,"age":"85-89 years","pct":10.5},{"year":2007,"age":"85-89 years","pct":10.6},{"year":2008,"age":"85-89 years","pct":11.3},{"year":2009,"age":"85-89 years","pct":11.7},{"year":2010,"age":"85-89 years","pct":11.5},{"year":2011,"age":"85-89 years","pct":11.7},{"year":2012,"age":"85-89 years","pct":12.0},{"year":2013,"age":"85-89 years","pct":12.3},{"year":2014,"age":"85-89 years","pct":14.1},{"year":2015,"age":"85-89 years","pct":13.9},{"year":2016,"age":"85-89 years","pct":13.5},{"year":2017,"age":"85-89 years","pct":12.4},{"year":2018,"age":"85-89 years","pct":12.9},{"year":2019,"age":"85-89 years","pct":12.8},
{"year":1990,"age":"⩾90 years","pct":5.1},{"year":1991,"age":"⩾90 years","pct":6.1},{"year":1992,"age":"⩾90 years","pct":4.4},{"year":1993,"age":"⩾90 years","pct":5.1},{"year":1994,"age":"⩾90 years","pct":5.9},{"year":1995,"age":"⩾90 years","pct":4.8},{"year":1996,"age":"⩾90 years","pct":6.1},{"year":1997,"age":"⩾90 years","pct":5.7},{"year":1998,"age":"⩾90 years","pct":5.1},{"year":1999,"age":"⩾90 years","pct":5.9},{"year":2000,"age":"⩾90 years","pct":5.8},{"year":2001,"age":"⩾90 years","pct":6.5},{"year":2002,"age":"⩾90 years","pct":7.3},{"year":2003,"age":"⩾90 years","pct":6.0},{"year":2004,"age":"⩾90 years","pct":6.1},{"year":2005,"age":"⩾90 years","pct":6.7},{"year":2006,"age":"⩾90 years","pct":6.8},{"year":2007,"age":"⩾90 years","pct":7.4},{"year":2008,"age":"⩾90 years","pct":7.0},{"year":2009,"age":"⩾90 years","pct":8.8},{"year":2010,"age":"⩾90 years","pct":8.2},{"year":2011,"age":"⩾90 years","pct":6.8},{"year":2012,"age":"⩾90 years","pct":8.1},{"year":2013,"age":"⩾90 years","pct":8.0},{"year":2014,"age":"⩾90 years","pct":8.0},{"year":2015,"age":"⩾90 years","pct":9.1},{"year":2016,"age":"⩾90 years","pct":8.4},{"year":2017,"age":"⩾90 years","pct":9.5},{"year":2018,"age":"⩾90 years","pct":8.8},{"year":2019,"age":"⩾90 years","pct":8.2}
],
"hormonal": [
{"year":1990,"age":"<80 years","pct":7.7},{"year":1991,"age":"<80 years","pct":8.2},{"year":1992,"age":"<80 years","pct":9.1},{"year":1993,"age":"<80 years","pct":9.1},{"year":1994,"age":"<80 years","pct":9.4},{"year":1995,"age":"<80 years","pct":8.7},{"year":1996,"age":"<80 years","pct":8.7},{"year":1997,"age":"<80 years","pct":8.7},{"year":1998,"age":"<80 years","pct":9.8},{"year":1999,"age":"<80 years","pct":11.2},{"year":2000,"age":"<80 years","pct":12.2},{"year":2001,"age":"<80 years","pct":12.6},{"year":2002,"age":"<80 years","pct":12.7},{"year":2003,"age":"<80 years","pct":13.5},{"year":2004,"age":"<80 years","pct":13.4},{"year":2005,"age":"<80 years","pct":13.4},{"year":2006,"age":"<80 years","pct":12.9},{"year":2007,"age":"<80 years","pct":12.6},{"year":2008,"age":"<80 years","pct":13.2},{"year":2009,"age":"<80 years","pct":14.3},{"year":2010,"age":"<80 years","pct":13.9},{"year":2011,"age":"<80 years","pct":14.1},{"year":2012,"age":"<80 years","pct":14.1},{"year":2013,"age":"<80 years","pct":14.0},{"year":2014,"age":"<80 years","pct":13.8},{"year":2015,"age":"<80 years","pct":13.5},{"year":2016,"age":"<80 years","pct":13.5},{"year":2017,"age":"<80 years","pct":13.6},{"year":2018,"age":"<80 years","pct":13.5},{"year":2019,"age":"<80 years","pct":13.5},
{"year":1990,"age":"80-84 years","pct":12.6},{"year":1991,"age":"80-84 years","pct":13.4},{"year":1992,"age":"80-84 years","pct":14.3},{"year":1993,"age":"80-84 years","pct":16.1},{"year":1994,"age":"80-84 years","pct":15.4},{"year":1995,"age":"80-84 years","pct":15.6},{"year":1996,"age":"80-84 years","pct":15.9},{"year":1997,"age":"80-84 years","pct":14.5},{"year":1998,"age":"80-84 years","pct":15.9},{"year":1999,"age":"80-84 years","pct":15.1},{"year":2000,"age":"80-84 years","pct":15.0},{"year":2001,"age":"80-84 years","pct":16.0},{"year":2002,"age":"80-84 years","pct":15.4},{"year":2003,"age":"80-84 years","pct":15.2},{"year":2004,"age":"80-84 years","pct":16.0},{"year":2005,"age":"80-84 years","pct":15.1},{"year":2006,"age":"80-84 years","pct":15.0},{"year":2007,"age":"80-84 years","pct":14.3},{"year":2008,"age":"80-84 years","pct":14.2},{"year":2009,"age":"80-84 years","pct":14.8},{"year":2010,"age":"80-84 years","pct":13.9},{"year":2011,"age":"80-84 years","pct":13.6},{"year":2012,"age":"80-84 years","pct":13.5},{"year":2013,"age":"80-84 years","pct":13.4},{"year":2014,"age":"80-84 years","pct":13.6},{"year":2015,"age":"80-84 years","pct":13.5},{"year":2016,"age":"80-84 years","pct":13.0},{"year":2017,"age":"80-84 years","pct":13.7},{"year":2018,"age":"80-84 years","pct":13.4},{"year":2019,"age":"80-84 years","pct":13.5},
{"year":1990,"age":"85-89 years","pct":13.7},{"year":1991,"age":"85-89 years","pct":13.1},{"year":1992,"age":"85-89 years","pct":16.2},{"year":1993,"age":"85-89 years","pct":16.0},{"year":1994,"age":"85-89 years","pct":17.9},{"year":1995,"age":"85-89 years","pct":17.2},{"year":1996,"age":"85-89 years","pct":16.9},{"year":1997,"age":"85-89 years","pct":15.7},{"year":1998,"age":"85-89 years","pct":15.9},{"year":1999,"age":"85-89 years","pct":17.2},{"year":2000,"age":"85-89 years","pct":17.0},{"year":2001,"age":"85-89 years","pct":17.1},{"year":2002,"age":"85-89 years","pct":17.2},{"year":2003,"age":"85-89 years","pct":18.0},{"year":2004,"age":"85-89 years","pct":18.2},{"year":2005,"age":"85-89 years","pct":17.6},{"year":2006,"age":"85-89 years","pct":16.2},{"year":2007,"age":"85-89 years","pct":16.2},{"year":2008,"age":"85-89 years","pct":16.5},{"year":2009,"age":"85-89 years","pct":16.3},{"year":2010,"age":"85-89 years","pct":16.0},{"year":2011,"age":"85-89 years","pct":16.2},{"year":2012,"age":"85-89 years","pct":16.3},{"year":2013,"age":"85-89 years","pct":15.8},{"year":2014,"age":"85-89 years","pct":16.0},{"year":2015,"age":"85-89 years","pct":15.0},{"year":2016,"age":"85-89 years","pct":14.9},{"year":2017,"age":"85-89 years","pct":15.3},{"year":2018,"age":"85-89 years","pct":15.2},{"year":2019,"age":"85-89 years","pct":14.9},
{"year":1990,"age":"⩾90 years","pct":14.7},{"year":1991,"age":"⩾90 years","pct":12.7},{"year":1992,"age":"⩾90 years","pct":17.4},{"year":1993,"age":"⩾90 years","pct":18.3},{"year":1994,"age":"⩾90 years","pct":18.9},{"year":1995,"age":"⩾90 years","pct":18.1},{"year":1996,"age":"⩾90 years","pct":16.3},{"year":1997,"age":"⩾90 years","pct":21.1},{"year":1998,"age":"⩾90 years","pct":16.1},{"year":1999,"age":"⩾90 years","pct":19.6},{"year":2000,"age":"⩾90 years","pct":14.3},{"year":2001,"age":"⩾90 years","pct":17.6},{"year":2002,"age":"⩾90 years","pct":20.4},{"year":2003,"age":"⩾90 years","pct":16.1},{"year":2004,"age":"⩾90 years","pct":20.6},{"year":2005,"age":"⩾90 years","pct":19.1},{"year":2006,"age":"⩾90 years","pct":20.3},{"year":2007,"age":"⩾90 years","pct":18.7},{"year":2008,"age":"⩾90 years","pct":20.4},{"year":2009,"age":"⩾90 years","pct":19.1},{"year":2010,"age":"⩾90 years","pct":19.6},{"year":2011,"age":"⩾90 years","pct":20.5},{"year":2012,"age":"⩾90 years","pct":19.2},{"year":2013,"age":"⩾90 years","pct":18.4},{"year":2014,"age":"⩾90 years","pct":21.7},{"year":2015,"age":"⩾90 years","pct":19.1},{"year":2016,"age":"⩾90 years","pct":19.4},{"year":2017,"age":"⩾90 years","pct":19.2},{"year":2018,"age":"⩾90 years","pct":18.8},{"year":2019,"age":"⩾90 years","pct":17.6}
],
"none": [
{"year":1990,"age":"<80 years","pct":20.2},{"year":1991,"age":"<80 years","pct":19.3},{"year":1992,"age":"<80 years","pct":18.3},{"year":1993,"age":"<80 years","pct":17.5},{"year":1994,"age":"<80 years","pct":17.1},{"year":1995,"age":"<80 years","pct":17.1},{"year":1996,"age":"<80 years","pct":16.9},{"year":1997,"age":"<80 years","pct":16.5},{"year":1998,"age":"<80 years","pct":16.1},{"year":1999,"age":"<80 years","pct":16.0},{"year":2000,"age":"<80 years","pct":16.1},{"year":2001,"age":"<80 years","pct":15.9},{"year":2002,"age":"<80 years","pct":16.1},{"year":2003,"age":"<80 years","pct":15.4},{"year":2004,"age":"<80 years","pct":14.8},{"year":2005,"age":"<80 years","pct":14.7},{"year":2006,"age":"<80 years","pct":14.4},{"year":2007,"age":"<80 years","pct":14.0},{"year":2008,"age":"<80 years","pct":13.8},{"year":2009,"age":"<80 years","pct":13.7},{"year":2010,"age":"<80 years","pct":13.4},{"year":2011,"age":"<80 years","pct":13.0},{"year":2012,"age":"<80 years","pct":13.2},{"year":2013,"age":"<80 years","pct":13.0},{"year":2014,"age":"<80 years","pct":12.0},{"year":2015,"age":"<80 years","pct":12.3},{"year":2016,"age":"<80 years","pct":13.1},{"year":2017,"age":"<80 years","pct":12.9},{"year":2018,"age":"<80 years","pct":13.1},{"year":2019,"age":"<80 years","pct":13.4},
{"year":1990,"age":"80-84 years","pct":37.8},{"year":1991,"age":"80-84 years","pct":37.0},{"year":1992,"age":"80-84 years","pct":35.3},{"year":1993,"age":"80-84 years","pct":34.5},{"year":1994,"age":"80-84 years","pct":33.7},{"year":1995,"age":"80-84 years","pct":35.1},{"year":1996,"age":"80-84 years","pct":34.1},{"year":1997,"age":"80-84 years","pct":34.3},{"year":1998,"age":"80-84 years","pct":35.3},{"year":1999,"age":"80-84 years","pct":34.4},{"year":2000,"age":"80-84 years","pct":35.3},{"year":2001,"age":"80-84 years","pct":33.3},{"year":2002,"age":"80-84 years","pct":35.0},{"year":2003,"age":"80-84 years","pct":34.1},{"year":2004,"age":"80-84 years","pct":33.8},{"year":2005,"age":"80-84 years","pct":33.3},{"year":2006,"age":"80-84 years","pct":34.0},{"year":2007,"age":"80-84 years","pct":32.2},{"year":2008,"age":"80-84 years","pct":32.6},{"year":2009,"age":"80-84 years","pct":32.1},{"year":2010,"age":"80-84 years","pct":31.8},{"year":2011,"age":"80-84 years","pct":31.4},{"year":2012,"age":"80-84 years","pct":30.9},{"year":2013,"age":"80-84 years","pct":31.3},{"year":2014,"age":"80-84 years","pct":28.7},{"year":2015,"age":"80-84 years","pct":30.1},{"year":2016,"age":"80-84 years","pct":31.1},{"year":2017,"age":"80-84 years","pct":29.8},{"year":2018,"age":"80-84 years","pct":31.5},{"year":2019,"age":"80-84 years","pct":30.3},
{"year":1990,"age":"85-89 years","pct":41.2},{"year":1991,"age":"85-89 years","pct":41.2},{"year":1992,"age":"85-89 years","pct":40.7},{"year":1993,"age":"85-89 years","pct":41.1},{"year":1994,"age":"85-89 years","pct":39.2},{"year":1995,"age":"85-89 years","pct":41.3},{"year":1996,"age":"85-89 years","pct":40.5},{"year":1997,"age":"85-89 years","pct":40.7},{"year":1998,"age":"85-89 years","pct":38.4},{"year":1999,"age":"85-89 years","pct":37.6},{"year":2000,"age":"85-89 years","pct":39.1},{"year":2001,"age":"85-89 years","pct":39.3},{"year":2002,"age":"85-89 years","pct":38.9},{"year":2003,"age":"85-89 years","pct":38.4},{"year":2004,"age":"85-89 years","pct":38.6},{"year":2005,"age":"85-89 years","pct":40.3},{"year":2006,"age":"85-89 years","pct":38.9},{"year":2007,"age":"85-89 years","pct":37.8},{"year":2008,"age":"85-89 years","pct":37.4},{"year":2009,"age":"85-89 years","pct":38.4},{"year":2010,"age":"85-89 years","pct":38.1},{"year":2011,"age":"85-89 years","pct":37.2},{"year":2012,"age":"85-89 years","pct":38.1},{"year":2013,"age":"85-89 years","pct":38.9},{"year":2014,"age":"85-89 years","pct":35.6},{"year":2015,"age":"85-89 years","pct":36.8},{"year":2016,"age":"85-89 years","pct":39.6},{"year":2017,"age":"85-89 years","pct":39.7},{"year":2018,"age":"85-89 years","pct":39.8},{"year":2019,"age":"85-89 years","pct":40.9},
{"year":1990,"age":"⩾90 years","pct":49.5},{"year":1991,"age":"⩾90 years","pct":47.8},{"year":1992,"age":"⩾90 years","pct":47.1},{"year":1993,"age":"⩾90 years","pct":45.7},{"year":1994,"age":"⩾90 years","pct":45.4},{"year":1995,"age":"⩾90 years","pct":45.0},{"year":1996,"age":"⩾90 years","pct":47.5},{"year":1997,"age":"⩾90 years","pct":44.6},{"year":1998,"age":"⩾90 years","pct":43.4},{"year":1999,"age":"⩾90 years","pct":40.7},{"year":2000,"age":"⩾90 years","pct":45.8},{"year":2001,"age":"⩾90 years","pct":44.1},{"year":2002,"age":"⩾90 years","pct":44.8},{"year":2003,"age":"⩾90 years","pct":46.9},{"year":2004,"age":"⩾90 years","pct":41.8},{"year":2005,"age":"⩾90 years","pct":46.4},{"year":2006,"age":"⩾90 years","pct":44.6},{"year":2007,"age":"⩾90 years","pct":43.2},{"year":2008,"age":"⩾90 years","pct":45.0},{"year":2009,"age":"⩾90 years","pct":45.0},{"year":2010,"age":"⩾90 years","pct":44.0},{"year":2011,"age":"⩾90 years","pct":43.4},{"year":2012,"age":"⩾90 years","pct":45.8},{"year":2013,"age":"⩾90 years","pct":44.6},{"year":2014,"age":"⩾90 years","pct":40.2},{"year":2015,"age":"⩾90 years","pct":43.7},{"year":2016,"age":"⩾90 years","pct":44.5},{"year":2017,"age":"⩾90 years","pct":42.7},{"year":2018,"age":"⩾90 years","pct":46.1},{"year":2019,"age":"⩾90 years","pct":46.8}
]
}
}
